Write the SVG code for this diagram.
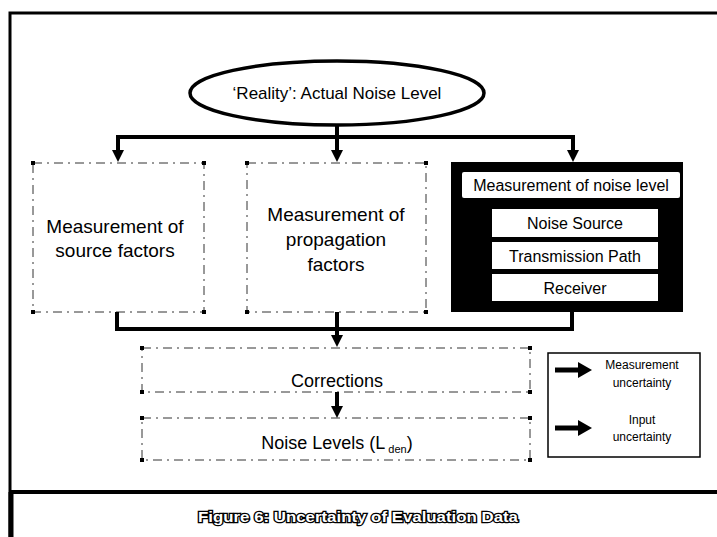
<svg xmlns="http://www.w3.org/2000/svg" width="717" height="537" viewBox="0 0 717 537">
<defs>
<style>
.t{font-family:"Liberation Sans",Arial,sans-serif;fill:#000;text-anchor:middle}
.dash{fill:#fff;stroke:#333;stroke-width:1;stroke-dasharray:9 5 2 5}
.dot{fill:#000}
.wb{fill:#fff;stroke:none}
.con{fill:none;stroke:#000;stroke-width:4}
</style>
<marker id="ah" viewBox="0 0 12 12" refX="0" refY="6" markerWidth="12" markerHeight="12" markerUnits="userSpaceOnUse" orient="auto">
<path d="M0,0 L12,6 L0,12 z" fill="#000"/>
</marker>
<marker id="ahL" viewBox="0 0 14 16" refX="0" refY="8" markerWidth="14" markerHeight="16" markerUnits="userSpaceOnUse" orient="auto">
<path d="M0,0 L14,8 L0,16 z" fill="#000"/>
</marker>
</defs>
<rect x="0" y="0" width="717" height="537" fill="#fff"/>
<g id="frame">
<path d="M10,537 V13 H717" fill="none" stroke="#000" stroke-width="3"/>
<line x1="10" y1="492" x2="717" y2="492" stroke="#000" stroke-width="4"/>
<line x1="11" y1="492" x2="11" y2="537" stroke="#000" stroke-width="5"/>
</g>
<g id="reality">
<ellipse cx="337" cy="93" rx="147" ry="32" fill="#fff" stroke="#000" stroke-width="3.5"/>
<text class="t" x="337" y="99" font-size="17">‘Reality’: Actual Noise Level</text>
</g>
<g id="source">
<rect class="dash" x="33" y="163" width="171" height="149"/>
<rect class="dot" x="31" y="161" width="4" height="4"/><rect class="dot" x="202" y="161" width="4" height="4"/>
<rect class="dot" x="31" y="310" width="4" height="4"/><rect class="dot" x="202" y="310" width="4" height="4"/>
<text class="t" x="115" y="233" font-size="19">Measurement of</text>
<text class="t" x="115" y="257" font-size="19">source factors</text>
</g>
<g id="propagation">
<rect class="dash" x="247" y="163" width="179" height="149"/>
<rect class="dot" x="245" y="161" width="4" height="4"/><rect class="dot" x="424" y="161" width="4" height="4"/>
<rect class="dot" x="245" y="310" width="4" height="4"/><rect class="dot" x="424" y="310" width="4" height="4"/>
<text class="t" x="336" y="221" font-size="19">Measurement of</text>
<text class="t" x="336" y="246" font-size="19">propagation</text>
<text class="t" x="336" y="271" font-size="19">factors</text>
</g>
<g id="noise-measurement">
<rect x="451" y="162" width="232" height="150" fill="#000"/>
<rect class="wb" x="462" y="172" width="218" height="26" rx="2"/>
<text class="t" x="571" y="191" font-size="16">Measurement of noise level</text>
<rect class="wb" x="492" y="209" width="166" height="28"/>
<text class="t" x="575" y="229" font-size="16">Noise Source</text>
<rect class="wb" x="492" y="242" width="166" height="27"/>
<text class="t" x="575" y="262" font-size="16">Transmission Path</text>
<rect class="wb" x="492" y="274" width="166" height="27"/>
<text class="t" x="575" y="294" font-size="16">Receiver</text>
</g>
<g id="corrections">
<rect class="dash" x="142" y="348" width="388" height="44"/>
<rect class="dot" x="140" y="346" width="4" height="4"/><rect class="dot" x="528" y="346" width="4" height="4"/>
<rect class="dot" x="140" y="390" width="4" height="4"/><rect class="dot" x="528" y="390" width="4" height="4"/>
<text class="t" x="337" y="387" font-size="18">Corrections</text>
</g>
<g id="noise-levels">
<rect class="dash" x="142" y="418" width="388" height="42"/>
<rect class="dot" x="140" y="416" width="4" height="4"/><rect class="dot" x="528" y="416" width="4" height="4"/>
<rect class="dot" x="140" y="458" width="4" height="4"/><rect class="dot" x="528" y="458" width="4" height="4"/>
<text class="t" x="337" y="449" font-size="18">Noise Levels (L<tspan font-size="11" dy="4"> den</tspan><tspan dy="-4">)</tspan></text>
</g>
<g id="legend">
<rect x="548" y="353" width="152" height="104" fill="#fff" stroke="#000" stroke-width="1.5"/>
<line x1="555" y1="370" x2="578" y2="370" stroke="#000" stroke-width="5" marker-end="url(#ahL)"/>
<text class="t" x="642" y="369" font-size="12">Measurement</text>
<text class="t" x="642" y="387" font-size="12">uncertainty</text>
<line x1="555" y1="428" x2="578" y2="428" stroke="#000" stroke-width="5" marker-end="url(#ahL)"/>
<text class="t" x="642" y="424" font-size="12">Input</text>
<text class="t" x="642" y="441" font-size="12">uncertainty</text>
</g>
<g id="connectors">
<line class="con" x1="337" y1="125" x2="337" y2="137"/>
<line class="con" x1="116" y1="137" x2="575" y2="137"/>
<line class="con" x1="118" y1="137" x2="118" y2="150" marker-end="url(#ah)"/>
<line class="con" x1="337" y1="137" x2="337" y2="150" marker-end="url(#ah)"/>
<line class="con" x1="573" y1="137" x2="573" y2="150" marker-end="url(#ah)"/>
<path class="con" d="M117,312 V329 H572 V312"/>
<line class="con" x1="337" y1="312" x2="337" y2="335" marker-end="url(#ah)"/>
<line class="con" x1="337" y1="392" x2="337" y2="406" marker-end="url(#ah)"/>
</g>
<g id="caption">
<text x="358" y="522" font-family="Liberation Sans, Arial, sans-serif" font-size="15" font-weight="bold" text-anchor="middle" fill="#fff" stroke="#000" stroke-width="2.5" paint-order="stroke" textLength="320" lengthAdjust="spacingAndGlyphs">Figure 6: Uncertainty of Evaluation Data</text>
</g>
</svg>
